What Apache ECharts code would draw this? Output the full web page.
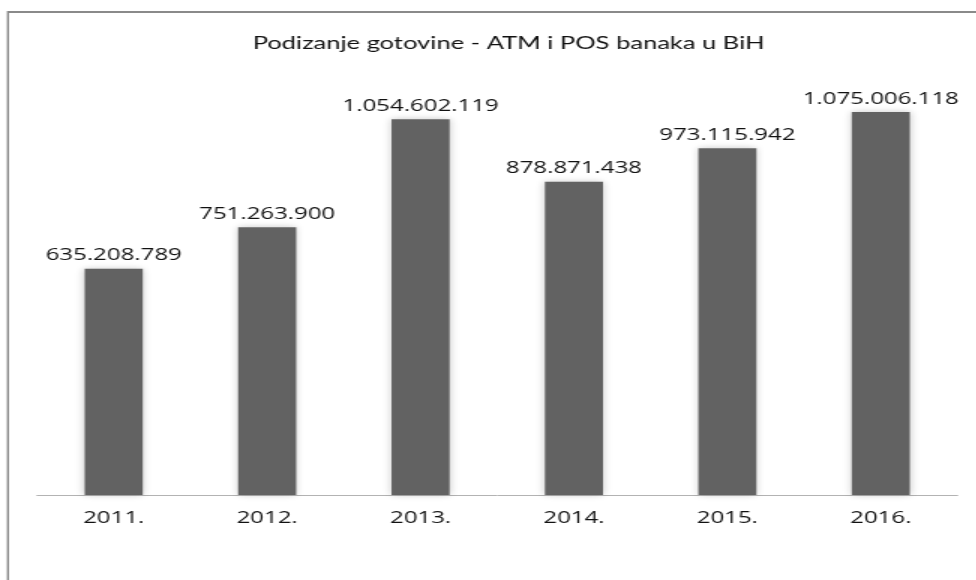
<!DOCTYPE html>
<html>
<head>
<meta charset="utf-8">
<script src="https://cdn.jsdelivr.net/npm/echarts@6/dist/echarts.min.js"></script>
<style>
  html, body { margin: 0; padding: 0; background: #fff; overflow: hidden; }
  /* the reference is stretched wide, so draw narrow and stretch it */
  #chart { width: 650.67px; height: 580px; transform: scaleX(1.5); transform-origin: 0 0; }
</style>
</head>
<body>
<div id="chart"></div>
<script>
const title = 'Podizanje gotovine - ATM i POS banaka u BiH';
const years = ['2011.', '2012.', '2013.', '2014.', '2015.', '2016.'];
const withdrawals = [635208789, 751263900, 1054602119, 878871438, 973115942, 1075006118];

const fmt = v => String(v).replace(/\B(?=(\d{3})+(?!\d))/g, '.');

const chart = echarts.init(document.getElementById('chart'));
chart.setOption({
  animation: false,
  title: {
    text: title,
    left: 334,
    top: 30,
    textAlign: 'center',
    textStyle: { fontFamily: 'Lato', fontSize: 17, fontWeight: 'normal', color: '#111' }
  },
  graphic: [
    { type: 'line', shape: { x1: 5.3, y1: 12, x2: 700, y2: 12 }, style: { stroke: '#8a8a8a', lineWidth: 2 } },
    { type: 'line', shape: { x1: 5.3, y1: 11, x2: 5.3, y2: 600 }, style: { stroke: '#8a8a8a', lineWidth: 1.4 } }
  ],
  grid: { left: 24.7, right: 12.67, top: 67.4, bottom: 85 },
  xAxis: {
    type: 'category',
    data: years,
    axisTick: { show: false },
    axisLine: { lineStyle: { color: '#b3b3b3', width: 1 } },
    axisLabel: { margin: 15, fontFamily: 'Open Sans', fontSize: 16, color: '#111' }
  },
  yAxis: { type: 'value', min: 0, max: 1200000000, show: false, splitLine: { show: false } },
  series: [{
    type: 'bar',
    data: withdrawals,
    barWidth: 38.7,
    itemStyle: {
      color: '#626262',
      shadowBlur: 6,
      shadowColor: 'rgba(0,0,0,0.22)'
    },
    label: {
      show: true,
      position: 'top',
      distance: 5,
      formatter: p => fmt(p.value),
      fontFamily: 'Open Sans',
      fontSize: 16,
      color: '#111'
    }
  }]
});
</script>
</body>
</html>
